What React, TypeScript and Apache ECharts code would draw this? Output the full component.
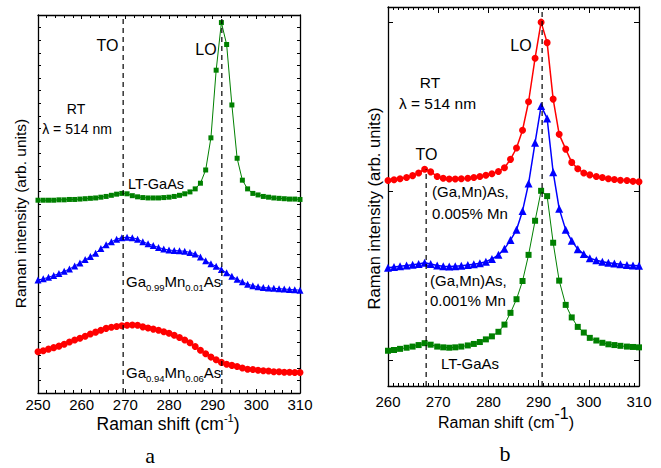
import React, { useEffect, useRef } from "react";
import * as echarts from "echarts";

// ---------- Panel a data ----------
const X_A = [
  250.0, 251.2, 252.4, 253.6, 254.8, 256.0, 257.2, 258.4, 259.6, 260.8,
  262.0, 263.2, 264.4, 265.6, 266.8, 268.0, 269.2, 270.4, 271.6, 272.8,
  274.0, 275.2, 276.4, 277.6, 278.8, 280.0, 281.2, 282.4, 283.6, 284.8,
  286.0, 287.2, 288.4, 289.6, 290.8, 292.0, 293.2, 294.4, 295.6, 296.8,
  298.0, 299.2, 300.4, 301.6, 302.8, 304.0, 305.2, 306.4, 307.6, 308.8, 310.0,
];
const LT_GAAS_A = [
  51.0, 51.0, 51.0, 51.0, 51.1, 51.1, 51.2, 51.2, 51.3, 51.4,
  51.5, 51.6, 51.8, 52.0, 52.3, 52.6, 52.8, 52.7, 52.2, 51.9,
  51.7, 51.6, 51.6, 51.6, 51.7, 51.8, 52.0, 52.3, 52.7, 53.2,
  54.0, 55.5, 59.0, 67.5, 85.4, 98.0, 92.2, 76.2, 62.1, 56.3,
  54.0, 52.8, 52.4, 52.0, 51.8, 51.6, 51.5, 51.4, 51.3, 51.3, 51.2,
];
const MN001_A = [
  29.9, 30.2, 30.6, 31.1, 31.6, 32.2, 32.8, 33.6, 34.4, 35.3,
  36.1, 37.0, 38.2, 39.2, 40.0, 40.7, 41.1, 41.2, 41.1, 40.7,
  40.0, 39.5, 39.0, 38.5, 38.1, 37.8, 37.7, 37.6, 37.5, 37.2,
  36.8, 36.0, 35.0, 34.2, 33.5, 32.7, 31.8, 30.9, 30.1, 29.4,
  28.8, 28.4, 28.1, 27.9, 27.8, 27.7, 27.6, 27.5, 27.4, 27.3, 27.2,
];
const MN006_A = [
  10.9, 11.2, 11.6, 12.0, 12.4, 12.9, 13.5, 14.0, 14.5, 15.0,
  15.6, 16.1, 16.6, 17.1, 17.4, 17.6, 17.8, 17.9, 18.0, 17.9,
  17.5, 17.2, 16.9, 16.6, 16.2, 15.8, 15.3, 14.7, 14.0, 13.3,
  12.3, 11.3, 10.4, 9.5, 8.8, 8.1, 7.6, 7.3, 7.0, 6.6,
  6.3, 6.2, 6.0, 5.9, 5.8, 5.6, 5.6, 5.5, 5.5, 5.4, 5.4,
];
const TO_A = 269.5;
const LO_A = 292.1;

// ---------- Panel b data ----------
const X_B = [
  260.0, 261.2, 262.4, 263.7, 264.9, 266.1, 267.3, 268.5, 269.8, 271.0,
  272.2, 273.4, 274.6, 275.9, 277.1, 278.3, 279.5, 280.7, 282.0, 283.2,
  284.4, 285.6, 286.8, 288.0, 289.3, 290.5, 291.7, 292.9, 294.1, 295.4,
  296.6, 297.8, 299.0, 300.2, 301.5, 302.7, 303.9, 305.1, 306.3, 307.6, 308.8, 310.0,
];
const MN0005_B = [
  54.2, 54.4, 54.7, 55.0, 55.5, 56.2, 57.2, 56.5, 55.3, 54.8,
  54.6, 54.6, 54.7, 54.8, 55.0, 55.3, 55.6, 56.0, 56.6, 57.6,
  59.8, 62.8, 67.5, 75.0, 86.5, 96.0, 90.6, 75.7, 66.4, 62.5,
  59.0, 57.3, 56.2, 55.7, 55.3, 55.0, 54.7, 54.5, 54.3, 54.2, 54.0, 53.9,
];
const MN0001_B = [
  31.2, 31.4, 31.6, 31.8, 32.0, 32.2, 32.5, 32.2, 31.8, 31.6,
  31.5, 31.6, 31.7, 31.9, 32.1, 32.4, 32.8, 33.5, 34.6, 36.2,
  38.5, 41.2, 46.2, 53.4, 64.2, 73.9, 70.6, 56.4, 46.8, 41.2,
  38.3, 36.1, 34.8, 33.7, 33.2, 32.8, 32.5, 32.3, 32.1, 31.9, 31.8, 31.7,
];
const LT_GAAS_B = [
  9.3, 9.5, 9.8, 10.1, 10.4, 10.8, 11.3, 10.9, 10.4, 10.2,
  10.1, 10.2, 10.4, 10.7, 11.1, 11.6, 12.3, 13.1, 14.3, 16.2,
  19.3, 22.9, 27.7, 34.6, 43.6, 51.5, 50.1, 37.8, 27.8, 21.4,
  18.1, 15.6, 14.1, 12.7, 12.0, 11.4, 11.0, 10.8, 10.6, 10.4, 10.3, 10.2,
];
const TO_B = 267.6;
const TO_B_TOP = 57.2;
const LO_B = 290.7;
const Y_TICKS_B = [6.9, 51.5, 96.0];

const FONT = "'Liberation Sans', Arial, sans-serif";
const SERIF = "'Liberation Serif', 'Times New Roman', serif";
const GREEN = "#008000";
const BLUE = "#0000ff";
const RED = "#ff0000";

const zip = (xs: number[], ys: number[]) => xs.map((x, i) => [x, ys[i]]);

function xAxis(gridIndex: number, min: number, max: number, position: string, labels: boolean, minorSplit: number, majorLen: number, labelMargin: number) {
  return {
    type: "value", gridIndex, min, max, interval: 10, position,
    axisLine: { show: true, onZero: false, lineStyle: { color: "#000", width: 1.3 } },
    axisTick: { show: true, inside: true, length: majorLen, lineStyle: { color: "#000", width: 1 } },
    minorTick: { show: true, splitNumber: minorSplit, length: 3, lineStyle: { color: "#000", width: 1 } },
    axisLabel: { show: labels, color: "#000", fontSize: 15, fontFamily: FONT, margin: labelMargin },
    splitLine: { show: false },
    minorSplitLine: { show: false },
  };
}

function yAxisA(position: string) {
  return {
    type: "value", gridIndex: 0, min: 0, max: 100, interval: 10, position,
    axisLine: { show: true, onZero: false, lineStyle: { color: "#000", width: 1.3 } },
    axisTick: { show: true, inside: true, length: 3, lineStyle: { color: "#000" } },
    minorTick: { show: true, splitNumber: 3, length: 3, lineStyle: { color: "#000" } },
    axisLabel: { show: false },
    splitLine: { show: false },
    minorSplitLine: { show: false },
  };
}

function yAxisB(position: string) {
  return {
    type: "value", gridIndex: 1, min: 0, max: 100, position,
    axisLine: { show: true, onZero: false, lineStyle: { color: "#000", width: 1.3 } },
    axisTick: { show: true, inside: true, length: 5, customValues: Y_TICKS_B, lineStyle: { color: "#000" } },
    axisLabel: { show: false, customValues: Y_TICKS_B },
    splitLine: { show: false },
  };
}

function dataSeries(xIdx: number, yIdx: number, data: number[][], color: string, symbol: string, size: number, width: number) {
  return {
    type: "line", xAxisIndex: xIdx, yAxisIndex: yIdx, data,
    symbol, symbolSize: size, showSymbol: true,
    itemStyle: { color },
    lineStyle: { color, width },
    z: 3,
  };
}

function dashed(xIdx: number, yIdx: number, data: number[][]) {
  return {
    type: "line", xAxisIndex: xIdx, yAxisIndex: yIdx, data,
    symbol: "none",
    lineStyle: { color: "#000", width: 1.2, type: [5, 4] },
    z: 5,
  };
}

const txt = (x: number, y: number, text: string, fontSize: number, align = "center", extra: any = {}) => ({
  type: "text", x, y, z: 10,
  style: { text, fontSize, fontFamily: FONT, fill: "#000", align, verticalAlign: "middle", ...extra },
});

const subRich = {
  m: { fontSize: 15, fontFamily: FONT, fill: "#000", lineHeight: 16 },
  s: { fontSize: 9.5, fontFamily: FONT, fill: "#000", lineHeight: 10, padding: [13, 0, 0, 0] },
};

export default function App() {
  const ref = useRef<HTMLDivElement>(null);
  useEffect(() => {
    document.body.style.margin = "0";
    const chart = echarts.init(ref.current!, null, { renderer: "svg" });
    chart.setOption({
      animation: false,
      backgroundColor: "#fff",
      grid: [
        { left: 38, top: 15, width: 262, height: 378 },
        { left: 388, top: 7, width: 251, height: 379 },
      ],
      xAxis: [
        xAxis(0, 250, 310, "bottom", true, 5, 4, 4),
        xAxis(0, 250, 310, "top", false, 5, 4, 4),
        xAxis(1, 260, 310, "bottom", true, 10, 6, 8),
        xAxis(1, 260, 310, "top", false, 10, 6, 8),
      ],
      yAxis: [yAxisA("left"), yAxisA("right"), yAxisB("left"), yAxisB("right")],
      series: [
        dataSeries(0, 0, zip(X_A, LT_GAAS_A), GREEN, "rect", 5, 1),
        dataSeries(0, 0, zip(X_A, MN001_A), BLUE, "triangle", 7, 1),
        dataSeries(0, 0, zip(X_A, MN006_A), RED, "circle", 7, 1),
        dashed(0, 0, [[TO_A, 0], [TO_A, 100]]),
        dashed(0, 0, [[LO_A, 0], [LO_A, 100]]),
        dataSeries(2, 2, zip(X_B, MN0005_B), RED, "circle", 7, 1.5),
        dataSeries(2, 2, zip(X_B, MN0001_B), BLUE, "triangle", 8, 1.5),
        dataSeries(2, 2, zip(X_B, LT_GAAS_B), GREEN, "rect", 6, 1),
        dashed(2, 2, [[TO_B, 0], [TO_B, TO_B_TOP]]),
        dashed(2, 2, [[LO_B, 0], [LO_B, 100]]),
      ],
      graphic: [
        // panel a annotations
        txt(107.5, 45, "TO", 16),
        txt(206, 49.5, "LO", 16),
        txt(76, 109, "RT", 14),
        txt(77, 129, "λ = 514 nm", 14),
        txt(156, 184, "LT-GaAs", 14.5),
        {
          type: "text", x: 126, y: 281, z: 10,
          style: { text: "{m|Ga}{s|0.99}{m|Mn}{s|0.01}{m|As}", rich: subRich, align: "left", verticalAlign: "middle" },
        },
        {
          type: "text", x: 126, y: 372, z: 10,
          style: { text: "{m|Ga}{s|0.94}{m|Mn}{s|0.06}{m|As}", rich: subRich, align: "left", verticalAlign: "middle" },
        },
        {
          type: "text", x: 168, y: 424, z: 10,
          style: {
            text: "{m|Raman shift (cm}{p|-1}{m|)}",
            align: "center", verticalAlign: "middle",
            rich: {
              m: { fontSize: 17.5, fontFamily: FONT, fill: "#000", lineHeight: 20 },
              p: { fontSize: 11, fontFamily: FONT, fill: "#000", lineHeight: 11, padding: [0, 0, 12, 0] },
            },
          },
        },
        {
          type: "text", x: 20, y: 213.5, rotation: Math.PI / 2, z: 10,
          style: { text: "Raman intensity (arb. units)", fontSize: 15.5, fontFamily: FONT, fill: "#000", align: "center", verticalAlign: "middle" },
        },
        { type: "text", x: 150, y: 455, z: 10, style: { text: "a", fontSize: 22, fontFamily: SERIF, fill: "#000", align: "center", verticalAlign: "middle" } },
        // panel b annotations
        txt(521, 45.5, "LO", 16),
        txt(430, 82, "RT", 15.5),
        txt(437.5, 103, "λ = 514 nm", 15.5),
        txt(426.5, 154, "TO", 16),
        txt(432, 191, "(Ga,Mn)As,", 15, "left"),
        txt(432, 213, "0.005% Mn", 15, "left"),
        txt(430, 280, "(Ga,Mn)As,", 15, "left"),
        txt(430, 300, "0.001% Mn", 15, "left"),
        txt(470, 363, "LT-GaAs", 15),
        {
          type: "text", x: 506, y: 422, z: 10,
          style: {
            text: "{m|Raman shift (cm}{p|-1}{m|)}",
            align: "center", verticalAlign: "middle",
            rich: {
              m: { fontSize: 16, fontFamily: FONT, fill: "#000", lineHeight: 18 },
              p: { fontSize: 16, fontFamily: FONT, fill: "#000", lineHeight: 16, padding: [0, 0, 18, 0] },
            },
          },
        },
        {
          type: "text", x: 373.5, y: 208.5, rotation: Math.PI / 2, z: 10,
          style: { text: "Raman intensity (arb. units)", fontSize: 16.5, fontFamily: FONT, fill: "#000", align: "center", verticalAlign: "middle" },
        },
        { type: "text", x: 505, y: 453, z: 10, style: { text: "b", fontSize: 22, fontFamily: SERIF, fill: "#000", align: "center", verticalAlign: "middle" } },
      ],
    });
    return () => chart.dispose();
  }, []);
  return <div ref={ref} style={{ width: 661, height: 468 }} />;
}
